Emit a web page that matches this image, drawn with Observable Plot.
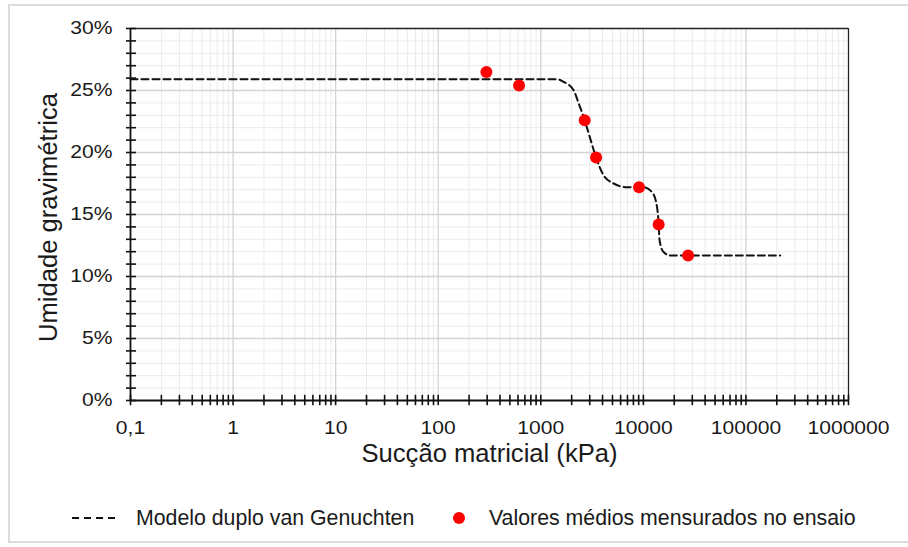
<!DOCTYPE html>
<html>
<head>
<meta charset="utf-8">
<script src="https://cdn.jsdelivr.net/npm/d3@7"></script>
<script src="https://cdn.jsdelivr.net/npm/@observablehq/plot@0.6"></script>
<style>
  html, body { margin: 0; padding: 0; background: #fff; }
  #wrap { position: relative; width: 908px; height: 547px; overflow: hidden; font-family: "Liberation Sans", Arial, sans-serif; color: #1a1a1a; }
  #frame { position: absolute; left: 8px; top: 4px; width: 920px; height: 539px; border: 2px solid #dcdcdc; box-sizing: border-box; }
  #chart { position: absolute; left: 0; top: 0; }
  .leg { position: absolute; font-size: 21.3px; line-height: 22px; white-space: nowrap; }
</style>
</head>
<body>
<div id="wrap">
  <div id="frame"></div>
  <div id="chart"></div>
</div>
<script>
// ---- Data ----
const xDecades = [0.1, 1, 10, 100, 1000, 10000, 100000, 1000000];
const xTickLabels = ["0,1", "1", "10", "100", "1000", "10000", "100000", "1000000"];
const yMajor = [0, 0.05, 0.10, 0.15, 0.20, 0.25, 0.30];
const yTickLabels = ["0%", "5%", "10%", "15%", "20%", "25%", "30%"];

// measured mean values (suction kPa, gravimetric moisture)
const measuredSuction = [295, 614, 2680, 3460, 9080, 14100, 27300];
const measuredMoisture = [0.265, 0.254, 0.226, 0.196, 0.172, 0.142, 0.117];

// double van Genuchten model curve
const modelSuction = [0.1, 1443, 1670, 2094, 2344, 2680, 3040, 3460, 4100, 5130, 6920, 10070, 12160, 13600, 14100, 14400, 15740, 18300, 216000];
const modelMoisture = [0.259, 0.259, 0.257, 0.250, 0.2395, 0.226, 0.211, 0.196, 0.1816, 0.175, 0.172, 0.172, 0.168, 0.156, 0.1423, 0.129, 0.1197, 0.117, 0.117];

const legendLabels = ["Modelo duplo van Genuchten", "Valores médios mensurados no ensaio"];
const axisTitles = { x: "Sucção matricial (kPa)", y: "Umidade gravimétrica" };

// ---- Derived tables ----
const measured = measuredSuction.map((s, i) => ({ s, w: measuredMoisture[i] }));
const model = modelSuction.map((s, i) => ({ s, w: modelMoisture[i] }));
const xMinor = [];
for (let k = 0; k < xDecades.length - 1; k++) for (let m = 2; m <= 9; m++) xMinor.push(+(xDecades[k] * m).toPrecision(6));
const xAllTicks = xDecades.concat(xMinor);
const yMinor = d3.range(0, 31).map(v => +(v / 100).toFixed(2));

const xLabel = new Map(xDecades.map((d, i) => [d, xTickLabels[i]]));
const yLabel = new Map(yMajor.map((d, i) => [d, yTickLabels[i]]));

const chart = Plot.plot({
  width: 908,
  height: 490,
  marginLeft: 130,
  marginRight: 60,
  marginTop: 28,
  marginBottom: 90,
  x: { type: "log", domain: [0.1, 1000000] },
  y: { domain: [0, 0.30] },
  style: { fontFamily: "Liberation Sans, Arial, sans-serif", color: "#1a1a1a", background: "transparent", overflow: "visible" },
  marks: [
    Plot.ruleX(xMinor, { stroke: "#ebebeb", strokeWidth: 1 }),
    Plot.ruleY(yMinor, { stroke: "#ebebeb", strokeWidth: 1 }),
    Plot.ruleX(xDecades.slice(1, -1), { stroke: "#d4d4d4", strokeWidth: 1.3 }),
    Plot.ruleY(yMajor.slice(1, -1), { stroke: "#d4d4d4", strokeWidth: 1.3 }),
    Plot.ruleY([0.30], { stroke: "#222", strokeWidth: 1.3 }),
    Plot.ruleX([1000000], { stroke: "#222", strokeWidth: 1.3 }),
    Plot.ruleY([0], { stroke: "#111", strokeWidth: 1.8 }),
    Plot.ruleX([0.1], { stroke: "#111", strokeWidth: 1.8 }),
    Plot.ruleX(xAllTicks, { y1: -0.0042, y2: 0.0042, stroke: "#111", strokeWidth: 1.6 }),
    Plot.ruleY(yMinor, { x1: 0.0914, x2: 0.1144, stroke: "#111", strokeWidth: 1.6 }),
    Plot.axisX(xDecades, { tickSize: 0, tickPadding: 20, tickFormat: d => xLabel.get(d), fontSize: 18.5, label: null }),
    Plot.axisY(yMajor, { tickSize: 0, tickPadding: 18, tickFormat: d => yLabel.get(d), fontSize: 18.5, label: null }),
    Plot.text([axisTitles.x], { frameAnchor: "bottom", dy: 61, fontSize: 25.6, fill: "#1a1a1a" }),
    Plot.text([axisTitles.y], { frameAnchor: "left", dx: -82, dy: 3, rotate: -90, textAnchor: "middle", fontSize: 25.6, fill: "#1a1a1a" }),
    Plot.line(model, { x: "s", y: "w", stroke: "#111", strokeWidth: 2, strokeDasharray: "7,4", curve: "monotone-x" }),
    Plot.dot(measured, { x: "s", y: "w", r: 6, fill: "#ff0000", stroke: "none" })
  ]
});
document.getElementById("chart").appendChild(chart);

// widen the tick labels horizontally, as in the reference rendering
chart.querySelectorAll('g[aria-label$="tick label"] text').forEach(t => {
  const tr = t.getAttribute("transform");
  if (tr) t.setAttribute("transform", tr + " scale(1.14,1)");
});

// ---- Legend (HTML below the SVG area) ----
const wrap = document.getElementById("wrap");
const sw1 = document.createElementNS("http://www.w3.org/2000/svg", "svg");
sw1.setAttribute("width", 50); sw1.setAttribute("height", 10);
sw1.style.position = "absolute"; sw1.style.left = "71px"; sw1.style.top = "513px";
sw1.innerHTML = '<line x1="1" y1="5" x2="48" y2="5" stroke="#111" stroke-width="2" stroke-dasharray="7,5"/>';
wrap.appendChild(sw1);
const t1 = document.createElement("div");
t1.className = "leg"; t1.style.left = "136px"; t1.style.top = "507px"; t1.textContent = legendLabels[0];
wrap.appendChild(t1);
const sw2 = document.createElementNS("http://www.w3.org/2000/svg", "svg");
sw2.setAttribute("width", 14); sw2.setAttribute("height", 14);
sw2.style.position = "absolute"; sw2.style.left = "452px"; sw2.style.top = "511px";
sw2.innerHTML = '<circle cx="7" cy="7" r="6" fill="#ff0000"/>';
wrap.appendChild(sw2);
const t2 = document.createElement("div");
t2.className = "leg"; t2.style.left = "489px"; t2.style.top = "507px"; t2.textContent = legendLabels[1];
wrap.appendChild(t2);
</script>
</body>
</html>
